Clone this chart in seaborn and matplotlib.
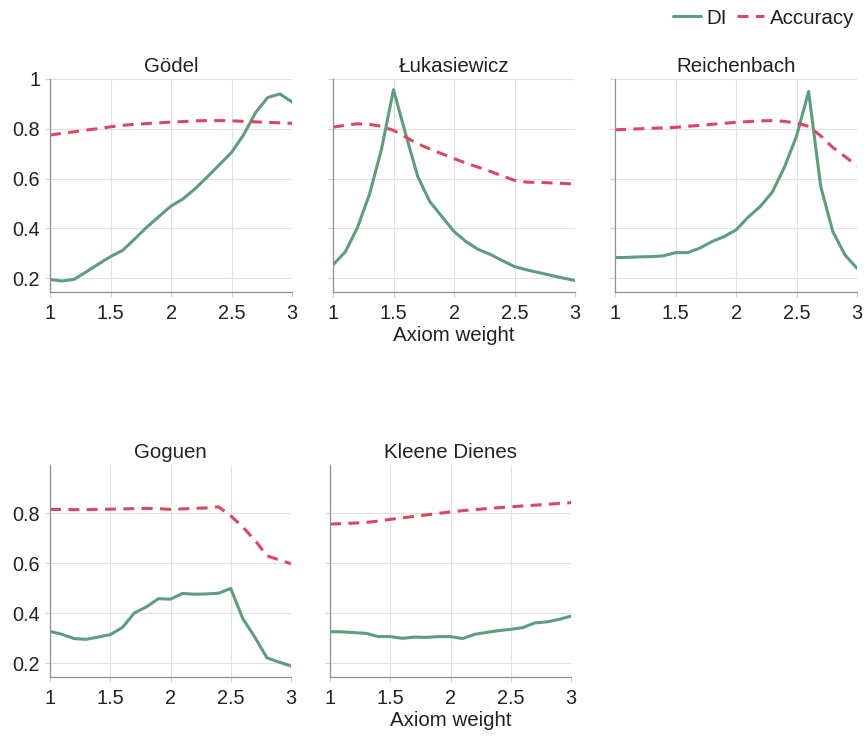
import matplotlib
matplotlib.use("Agg")
import matplotlib.pyplot as plt
import pandas as pd
import seaborn as sns
from matplotlib.lines import Line2D

# Axiom weight values (x axis)
weights = [1.0, 1.1, 1.2, 1.3, 1.4, 1.5, 1.6, 1.7, 1.8, 1.9, 2.0,
           2.1, 2.2, 2.3, 2.4, 2.5, 2.6, 2.7, 2.8, 2.9, 3.0]

logics = ["Gödel", "Łukasiewicz", "Reichenbach", "Goguen", "Kleene Dienes"]
metrics = ["DI", "Accuracy"]

godel_di = [0.195, 0.189, 0.196, 0.226, 0.257, 0.287, 0.312, 0.358, 0.405, 0.448, 0.490,
            0.519, 0.560, 0.607, 0.656, 0.705, 0.776, 0.866, 0.926, 0.940, 0.908]
godel_acc = [0.775, 0.782, 0.788, 0.795, 0.801, 0.808, 0.814, 0.818, 0.821, 0.824, 0.827,
             0.829, 0.832, 0.833, 0.833, 0.832, 0.830, 0.828, 0.826, 0.824, 0.822]

luk_di = [0.254, 0.305, 0.401, 0.535, 0.716, 0.957, 0.780, 0.609, 0.508, 0.448, 0.388,
          0.347, 0.316, 0.296, 0.271, 0.247, 0.234, 0.223, 0.212, 0.201, 0.191]
luk_acc = [0.807, 0.814, 0.820, 0.818, 0.810, 0.794, 0.767, 0.740, 0.719, 0.700, 0.681,
           0.662, 0.646, 0.629, 0.611, 0.593, 0.586, 0.585, 0.583, 0.581, 0.578]

reich_di = [0.283, 0.284, 0.286, 0.287, 0.290, 0.303, 0.303, 0.321, 0.347, 0.367, 0.394,
            0.445, 0.488, 0.546, 0.646, 0.770, 0.950, 0.569, 0.388, 0.294, 0.240]
reich_acc = [0.796, 0.798, 0.800, 0.802, 0.804, 0.806, 0.810, 0.814, 0.818, 0.822, 0.826,
             0.829, 0.832, 0.833, 0.830, 0.823, 0.810, 0.772, 0.725, 0.689, 0.652]

goguen_di = [0.327, 0.315, 0.298, 0.295, 0.304, 0.314, 0.342, 0.401, 0.425, 0.458, 0.456,
             0.479, 0.476, 0.477, 0.480, 0.499, 0.378, 0.304, 0.221, 0.204, 0.188]
goguen_acc = [0.816, 0.816, 0.815, 0.815, 0.816, 0.817, 0.818, 0.819, 0.820, 0.819, 0.816,
              0.818, 0.820, 0.822, 0.826, 0.790, 0.745, 0.693, 0.630, 0.614, 0.598]

kd_di = [0.326, 0.325, 0.322, 0.319, 0.306, 0.306, 0.299, 0.304, 0.303, 0.306, 0.306,
         0.298, 0.315, 0.323, 0.330, 0.335, 0.342, 0.361, 0.365, 0.375, 0.388]
kd_acc = [0.757, 0.759, 0.761, 0.764, 0.769, 0.776, 0.782, 0.788, 0.794, 0.800, 0.806,
          0.811, 0.815, 0.819, 0.823, 0.826, 0.830, 0.833, 0.836, 0.840, 0.843]

x_ticks = [1, 1.5, 2, 2.5, 3]
x_tick_labels = ["1", "1.5", "2", "2.5", "3"]
y_ticks_top = [0.2, 0.4, 0.6, 0.8, 1.0]
y_tick_labels_top = ["0.2", "0.4", "0.6", "0.8", "1"]
y_ticks_bottom = [0.2, 0.4, 0.6, 0.8]
y_tick_labels_bottom = ["0.2", "0.4", "0.6", "0.8"]

series = {
    "Gödel": (godel_di, godel_acc),
    "Łukasiewicz": (luk_di, luk_acc),
    "Reichenbach": (reich_di, reich_acc),
    "Goguen": (goguen_di, goguen_acc),
    "Kleene Dienes": (kd_di, kd_acc),
}

rows = []
for logic in logics:
    di, acc = series[logic]
    for w, d, a in zip(weights, di, acc):
        rows.append({"logic": logic, "weight": w, "metric": "DI", "value": d})
        rows.append({"logic": logic, "weight": w, "metric": "Accuracy", "value": a})
df = pd.DataFrame(rows)

sns.set_theme(style="white")
plt.rcParams["font.family"] = ["Liberation Sans", "DejaVu Sans"]

GREEN = "#5c9f7b"
RED = "#db4760"
GRID = "#e2e2e2"
SPINE = "#8f8f8f"
TEXT = "#222222"
palette = {"DI": GREEN, "Accuracy": RED}
DASH = (3.6, 2.4)
dash_map = {"DI": "", "Accuracy": DASH}

W, H = 865, 740
fig = plt.figure(figsize=(W / 100, H / 100), dpi=100)


def px_axes(left, top, right, bottom):
    return fig.add_axes([left / W, 1 - bottom / H, (right - left) / W, (bottom - top) / H])


panels = [
    ("Gödel", (50, 79, 292, 292), "top", True, False),
    ("Łukasiewicz", (333, 79, 575, 292), "top", False, True),
    ("Reichenbach", (615, 79, 857, 292), "top", False, False),
    ("Goguen", (50, 465, 291, 677), "bottom", True, False),
    ("Kleene Dienes", (330, 465, 571, 677), "bottom", False, True),
]

for logic, box, row, show_y, show_xlabel in panels:
    ax = px_axes(*box)
    sub = df[df["logic"] == logic]
    sns.lineplot(data=sub, x="weight", y="value", hue="metric", style="metric",
                 hue_order=metrics, style_order=metrics, palette=palette,
                 dashes=dash_map, linewidth=2.2, legend=False, ax=ax)
    ax.set_xlim(1, 3)
    if row == "top":
        ax.set_ylim(0.145, 1.0)
        yt, ytl = y_ticks_top, y_tick_labels_top
    else:
        ax.set_ylim(0.144, 0.994)
        yt, ytl = y_ticks_bottom, y_tick_labels_bottom
    ax.set_xticks(x_ticks)
    ax.set_xticklabels(x_tick_labels)
    ax.set_yticks(yt)
    ax.set_yticklabels(ytl if show_y else [])
    ax.grid(True, color=GRID, linewidth=0.8)
    ax.set_axisbelow(True)
    for side in ("top", "right"):
        ax.spines[side].set_visible(False)
    for side in ("left", "bottom"):
        ax.spines[side].set_color(SPINE)
        ax.spines[side].set_linewidth(0.9)
    ax.tick_params(axis="both", which="major", direction="out", bottom=True, left=True,
                   length=3.6, width=0.8, color="#d0d0d0",
                   labelsize=14.3, labelcolor=TEXT)
    ax.tick_params(axis="x", pad=5.0)
    ax.tick_params(axis="y", pad=3.5)
    ax.set_title(logic, fontsize=14.8, color=TEXT, pad=4.8)
    ax.set_xlabel("Axiom weight" if show_xlabel else "", fontsize=14.8, color=TEXT,
                  labelpad=2.5)
    ax.set_ylabel("")

handles = [
    Line2D([], [], color=GREEN, linewidth=2.2),
    Line2D([], [], color=RED, linewidth=2.2, dashes=DASH),
]
fig.legend(handles, metrics, loc="center right", bbox_to_anchor=(854 / W, 1 - 18 / H),
           ncol=2, frameon=False, fontsize=14.8, handlelength=1.35, handletextpad=0.25,
           columnspacing=0.5, borderpad=0, borderaxespad=0, labelcolor=TEXT)

fig.savefig("out.png", dpi=100, facecolor="white")
